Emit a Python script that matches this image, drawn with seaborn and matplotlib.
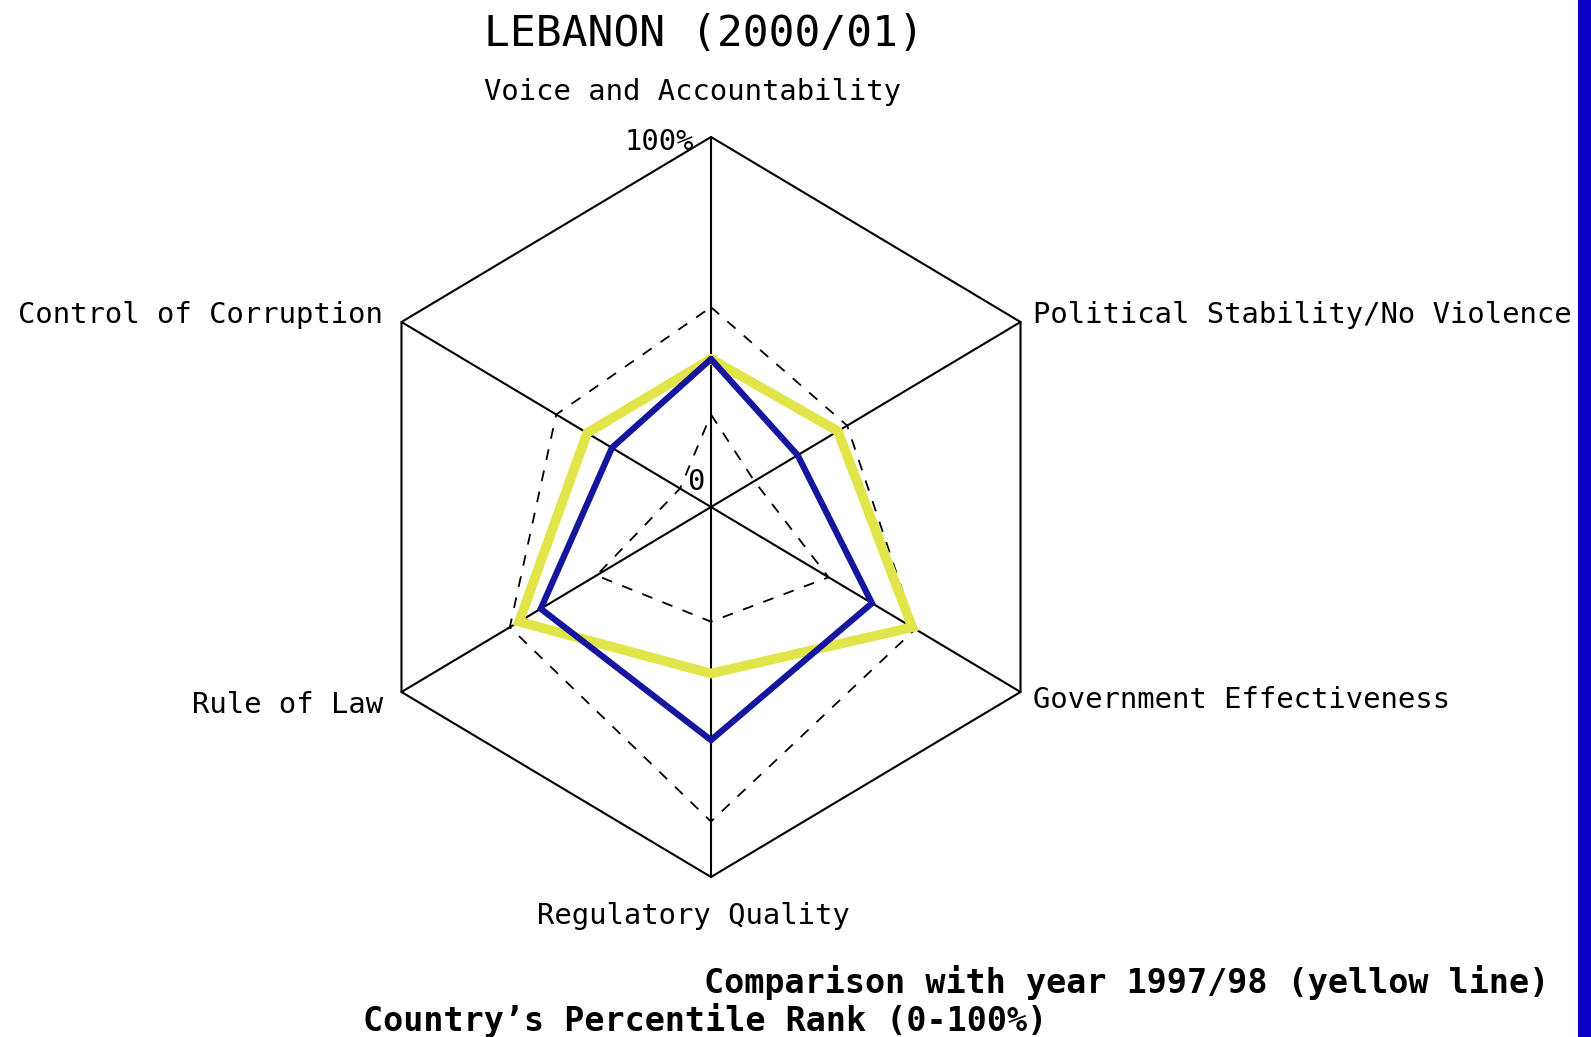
import numpy as np
import pandas as pd
import seaborn as sns
import matplotlib.pyplot as plt
from matplotlib.patches import Rectangle

# indicator order: clockwise from the top
indicators = ['Voice and Accountability', 'Political Stability/No Violence',
              'Government Effectiveness', 'Regulatory Quality',
              'Rule of Law', 'Control of Corruption']
rank_2000 = [40, 28, 52, 63, 55, 32]      # blue line, percentile rank
rank_1997 = [40, 41, 65, 45, 62, 40]      # yellow line
upper_2000 = [54, 44, 66, 85, 65, 50]     # dashed, upper bound
lower_2000 = [25, 14, 38, 31, 37, 10]     # dashed, lower bound

W, H = 1591, 1037
CX, CY = 711, 507
RX, RY = 357.4, 370.0
angles = np.deg2rad(np.arange(len(indicators)) * 60)


def to_xy(values):
    frac = np.asarray(values, dtype=float) / 100.0
    x = CX + frac * np.sin(angles) * RX
    y = CY - frac * np.cos(angles) * RY
    # close polygon
    return np.append(x, x[0]), np.append(y, y[0])


def poly_frame(name, values):
    x, y = to_xy(values)
    return pd.DataFrame({'x': x, 'y': y, 'series': name})


sns.set_style('white')
plt.rcParams['font.family'] = ['DejaVu Sans Mono', 'DejaVu Sans']
plt.rcParams['text.color'] = 'black'

fig = plt.figure(figsize=(W / 100, H / 100), dpi=100)
ax = fig.add_axes([0, 0, 1, 1])

# hexagon frame and spokes
hx, hy = to_xy([100] * len(indicators))
ax.plot(hx, hy, color='black', lw=1.5, zorder=1)
for px, py in zip(hx[:-1], hy[:-1]):
    ax.plot([CX, px], [CY, py], color='black', lw=1.5, zorder=1)

# confidence band (dashed)
for vals in (upper_2000, lower_2000):
    df = poly_frame('band', vals)
    sns.lineplot(data=df, x='x', y='y', sort=False, estimator=None, ax=ax,
                 color='black', lw=1.3, zorder=2)
    ax.lines[-1].set_dashes((6, 6))

df_old = poly_frame('1997/98', rank_1997)
sns.lineplot(data=df_old, x='x', y='y', sort=False, estimator=None, ax=ax,
             color='#e2e54a', lw=7, zorder=3, solid_joinstyle='miter')
df_new = poly_frame('2000/01', rank_2000)
sns.lineplot(data=df_new, x='x', y='y', sort=False, estimator=None, ax=ax,
             color='#15159e', lw=4.5, zorder=4, solid_joinstyle='miter')
ax.set_xlim(0, W)
ax.set_ylim(H, 0)
ax.axis('off')

# labels
lab = dict(fontsize=20.8, color='black')
ax.text(704, 34, 'LEBANON (2000/01)', fontsize=31, ha='center', va='center',
        color='black')
ax.text(693, 92, indicators[0], ha='center', va='center', **lab)
ax.text(1033, 315, indicators[1], ha='left', va='center', **lab)
ax.text(1033, 700, indicators[2], ha='left', va='center', **lab)
ax.text(693, 916, indicators[3], ha='center', va='center', **lab)
ax.text(383, 705, indicators[4], ha='right', va='center', **lab)
ax.text(383, 315, indicators[5], ha='right', va='center', **lab)
ax.text(694, 142, '100%', ha='right', va='center', **lab)
ax.text(696, 482, '0', ha='center', va='center', **lab)

ax.text(1549, 982, 'Comparison with year 1997/98 (yellow line)', fontsize=24,
        fontweight='bold', ha='right', va='center', color='black')
ax.text(363, 1020, 'Country\u2019s Percentile Rank (0-100%)', fontsize=24,
        fontweight='bold', ha='left', va='center', color='black')

# blue page edge on the right
fig.add_artist(Rectangle((1578 / W, 0), 1 - 1578 / W, 1, transform=fig.transFigure,
                         facecolor='#0a00c8', edgecolor='none', zorder=10))

fig.savefig('out.png', dpi=100, facecolor='white')
